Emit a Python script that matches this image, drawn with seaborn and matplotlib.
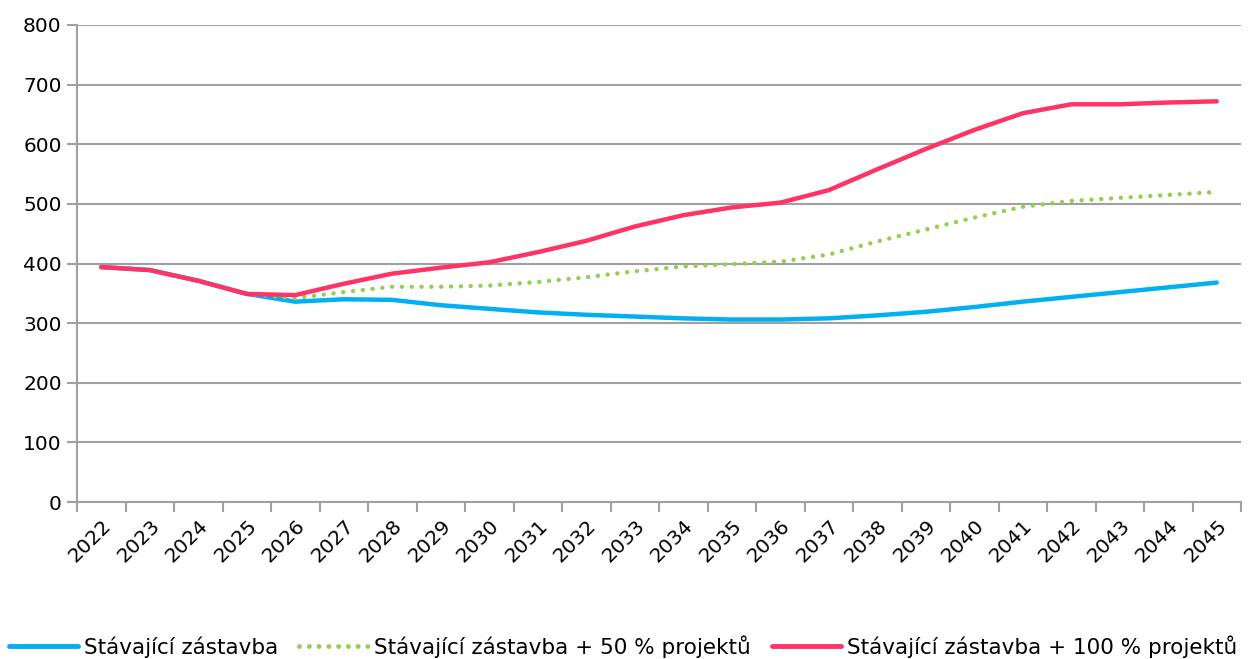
"""
Population forecast lines, 2022-2045, three development scenarios.
"""

import numpy as np
import pandas as pd
import matplotlib
matplotlib.use("Agg")
import matplotlib.pyplot as plt
import seaborn as sns


# --- Data ---
YEARS = list(range(2022, 2046))
EXISTING = [394, 389, 371, 349, 336, 340, 339, 330, 324, 318, 314, 311,
            308, 306, 306, 308, 313, 319, 327, 336, 344, 352, 360, 368]
PLUS_50 = [394, 389, 371, 349, 342, 352, 361, 361, 363, 369, 377, 387,
           395, 399, 403, 415, 437, 457, 477, 495, 505, 510, 515, 520]
PLUS_100 = [394, 389, 371, 349, 347, 366, 383, 393, 402, 419, 438, 462,
            481, 494, 502, 523, 558, 592, 624, 652, 667, 667, 670, 672]

SERIES_NAMES = [
    "Stávající zástavba",
    "Stávající zástavba + 50 % projektů",
    "Stávající zástavba + 100 % projektů",
]
COLORS = ["#00B0F0", "#92D050", "#FF3366"]

TICK_FONT = 14.5
LEGEND_FONT = 15.5
GRID = "#a0a0a0"


def main() -> None:
    sns.set_style("white")
    plt.rcParams["font.family"] = ["DejaVu Sans"]
    plt.rcParams["text.color"] = "black"
    plt.rcParams["xtick.color"] = "black"
    plt.rcParams["ytick.color"] = "black"

    pos = np.arange(len(YEARS))
    df = pd.DataFrame({
        "pos": np.tile(pos, 3),
        "value": EXISTING + PLUS_50 + PLUS_100,
        "series": np.repeat(SERIES_NAMES, len(YEARS)),
    })

    fig = plt.figure(figsize=(12.48, 6.59), dpi=100)
    ax = fig.add_axes([77 / 1248, 1 - 502 / 659, (1241 - 77) / 1248, (502 - 25) / 659])

    sns.lineplot(
        data=df, x="pos", y="value", hue="series", style="series",
        palette=COLORS, dashes=False, linewidth=3.2, ax=ax, legend=False,
        sort=False,
    )
    # dotted look for the 50 % scenario
    ax.lines[1].set_linestyle((0, (0.01, 2.2)))
    ax.lines[1].set_dash_capstyle("round")
    for ln in (ax.lines[0], ax.lines[2]):
        ln.set_solid_capstyle("round")

    ax.set_xlim(-0.5, len(YEARS) - 0.5)
    ax.set_ylim(0, 800)
    ax.set_yticks(np.arange(0, 801, 100))
    ax.grid(axis="y", color=GRID, linewidth=1.5)
    ax.set_axisbelow(True)
    ax.set_xlabel("")
    ax.set_ylabel("")

    # category boundaries as tick marks, labels at centres
    ax.set_xticks(np.arange(-0.5, len(YEARS)), labels=[])
    ax.set_xticks(pos, minor=True)
    ax.set_xticklabels([str(y) for y in YEARS], minor=True, rotation=45,
                       ha="right", va="top", rotation_mode="anchor",
                       fontsize=TICK_FONT)
    ax.tick_params(axis="x", which="major", length=7, width=1.5, color=GRID,
                   direction="out", bottom=True)
    ax.tick_params(axis="x", which="minor", length=0, pad=10)
    ax.tick_params(axis="y", length=7, width=1.5, color=GRID, direction="out",
                   left=True, labelsize=TICK_FONT, pad=4)

    for side in ("top", "right"):
        ax.spines[side].set_visible(False)
    for side in ("left", "bottom"):
        ax.spines[side].set_color(GRID)
        ax.spines[side].set_linewidth(1.5)

    handles = [
        plt.Line2D([], [], color=COLORS[0], linewidth=3.5),
        plt.Line2D([], [], color=COLORS[1], linewidth=3.5,
                   linestyle=(0, (0.01, 2.0)), dash_capstyle="round"),
        plt.Line2D([], [], color=COLORS[2], linewidth=3.5),
    ]
    fig.legend(handles, SERIES_NAMES, loc="lower left",
               bbox_to_anchor=(8 / 1248, 0.0), ncol=3, frameon=False,
               fontsize=LEGEND_FONT, handlelength=3.2, handletextpad=0.3,
               columnspacing=0.95, borderaxespad=0, borderpad=0.05)

    fig.savefig("out.png", dpi=100)
    plt.close(fig)


if __name__ == "__main__":
    main()
